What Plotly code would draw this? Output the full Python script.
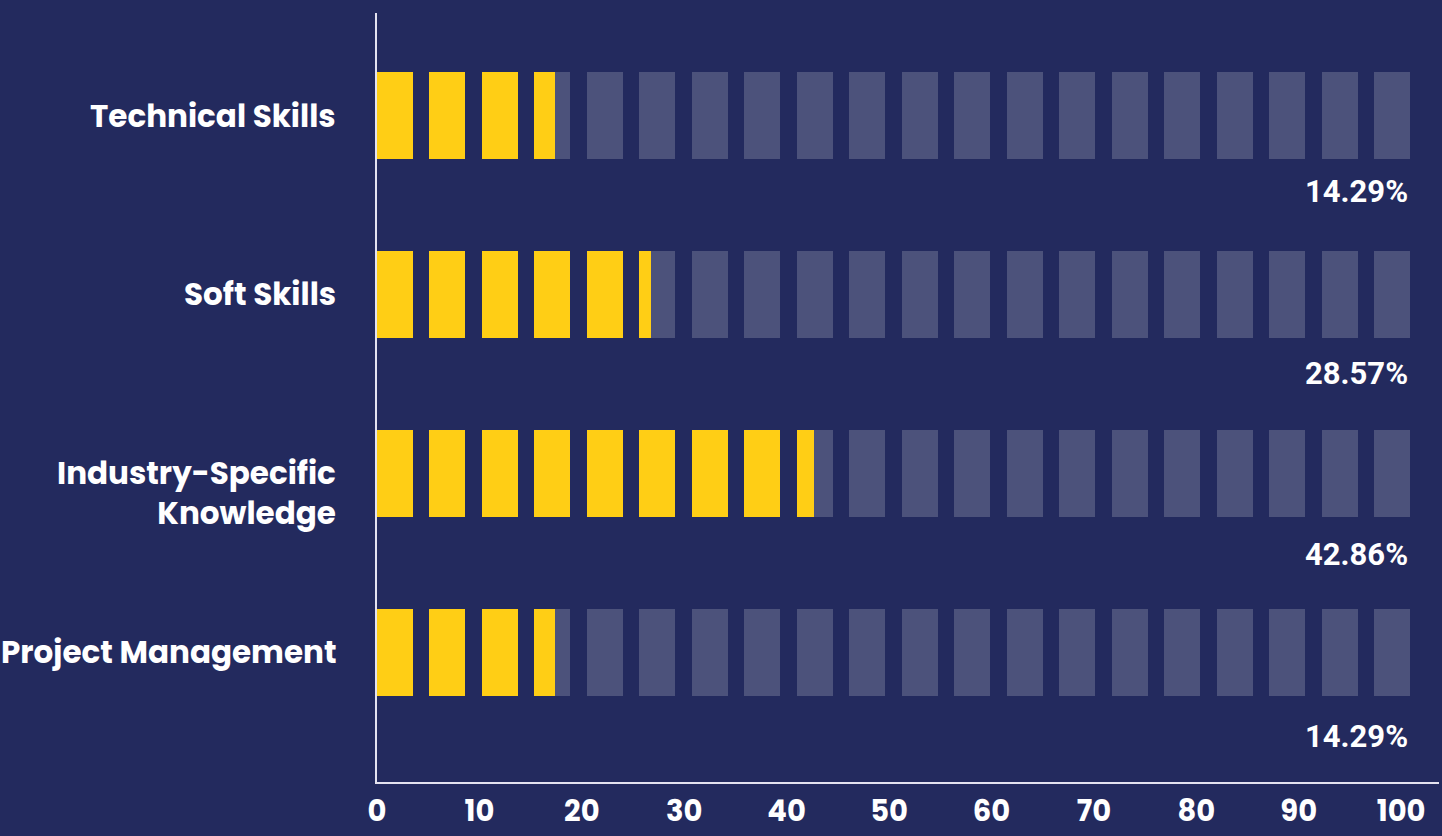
import plotly.graph_objects as go

# ---- data ----
categories = ["Technical Skills", "Soft Skills", "Industry-Specific<br>Knowledge", "Project Management"]
bar_values = [17.4, 26.8, 42.7, 17.4]          # filled length
pct_labels = ["14.29%", "28.57%", "42.86%", "14.29%"]
x_ticks = [0, 10, 20, 30, 40, 50, 60, 70, 80, 90, 100]

# ---- style ----
BG = "#232a5e"
GRAY = "#4c527b"
YELLOW = "#ffce15"
AXIS = "#e4e2f0"
SEG_COUNT = 20
SEG_END = 100.9            # right end of last segment (axis units)
SEG_RATIO = 36 / 52.5      # segment width / pitch
PITCH = SEG_END / (SEG_COUNT - 1 + SEG_RATIO)
SEG_W = PITCH * SEG_RATIO
BAR_H = 0.486
PCT_OFFSET = 0.425         # percent label offset below each bar (y units)
PCT_PITCH = 1.014          # percent labels spread slightly wider than bars
LABEL_FONT = "Poppins, Inter, 'Open Sans', sans-serif"

starts = [k * PITCH for k in range(SEG_COUNT)]

fig = go.Figure()

# gray background segments
gy, gx, gb = [], [], []
for i in range(len(categories)):
    for s in starts:
        gy.append(i); gx.append(SEG_W); gb.append(s)
fig.add_trace(go.Bar(y=gy, x=gx, base=gb, orientation="h", width=BAR_H,
                     marker=dict(color=GRAY, line=dict(width=0)),
                     hoverinfo="skip", showlegend=False))

# yellow filled segments
yy, yx, yb = [], [], []
for i, v in enumerate(bar_values):
    for s in starts:
        if s < v:
            yy.append(i); yx.append(min(SEG_W, v - s)); yb.append(s)
fig.add_trace(go.Bar(y=yy, x=yx, base=yb, orientation="h", width=BAR_H,
                     marker=dict(color=YELLOW, line=dict(width=0)),
                     hoverinfo="skip", showlegend=False))

# category labels
for i, c in enumerate(categories):
    n = c.count("<br>") + 1
    fig.add_annotation(x=0, xref="paper", y=i, yref="y", text=c, showarrow=False,
                       xanchor="right", yanchor="middle", xshift=-39,
                       yshift=-(n - 1) * 19.5,
                       font=dict(family=LABEL_FONT, size=31, color="white", weight="bold"),
                       align="right")

# percentage labels
for i, p in enumerate(pct_labels):
    fig.add_annotation(x=SEG_END, xref="x", y=i * PCT_PITCH + PCT_OFFSET, yref="y", text=p,
                       showarrow=False, xanchor="right", yanchor="middle",
                       font=dict(family="Roboto, sans-serif", size=31, color="white", weight="bold"))

fig.update_layout(
    width=1442, height=836,
    paper_bgcolor=BG, plot_bgcolor=BG,
    margin=dict(l=377, r=3, t=13, b=54, autoexpand=False),
    barmode="overlay", bargap=0,
    showlegend=False,
    xaxis=dict(range=[0, 103.7], tickvals=x_ticks, showgrid=False, zeroline=False,
               showline=True, linecolor=AXIS, linewidth=2, ticks="",
               automargin=False, ticklabelstandoff=2,
               tickfont=dict(family=LABEL_FONT, size=29, color="white", weight="bold")),
    yaxis=dict(range=[3.7235, -0.5726], showgrid=False, zeroline=False, automargin=False,
               showline=True, linecolor=AXIS, linewidth=2, showticklabels=False, ticks=""),
)

fig.write_html("out.html")
